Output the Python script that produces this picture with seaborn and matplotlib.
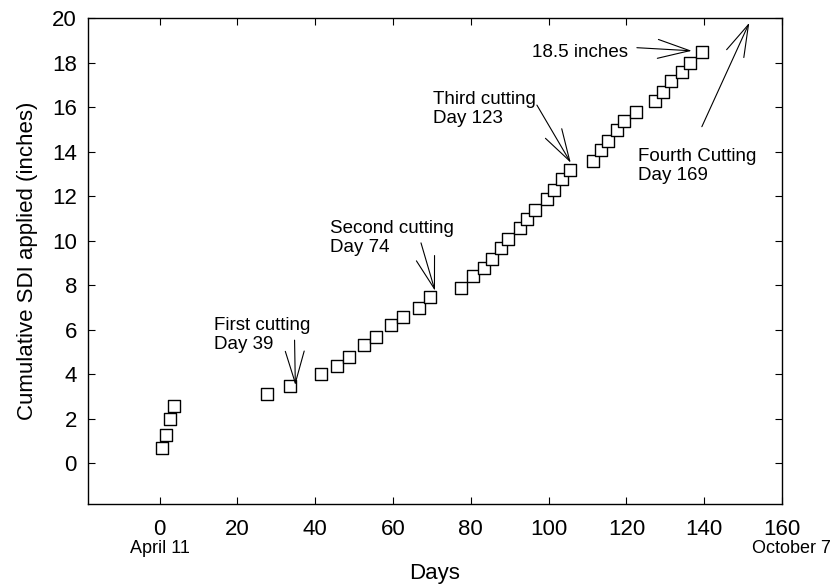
import matplotlib
matplotlib.use("Agg")
import matplotlib.pyplot as plt
import seaborn as sns
import pandas as pd

sns.set_style("ticks")
plt.rcParams["font.family"] = ["Liberation Sans", "DejaVu Sans"]
plt.rcParams["text.color"] = "black"
plt.rcParams["axes.labelcolor"] = "black"

# values
days = [0.7, 1.7, 2.7, 3.6,
        27.6, 33.6, 41.6, 45.6, 48.6, 52.5, 55.6, 59.6, 62.6, 66.6, 69.5,
        77.5, 80.5, 83.5, 85.5, 87.7, 89.5, 92.6, 94.5, 96.6, 99.5, 101.5, 103.4, 105.5,
        111.5, 113.4, 115.4, 117.5, 119.4, 122.4, 127.3, 129.3, 131.4, 134.3, 136.4, 139.4]
sdi = [0.7, 1.3, 2.0, 2.6,
       3.1, 3.5, 4.0, 4.4, 4.8, 5.3, 5.7, 6.2, 6.6, 7.0, 7.5,
       7.9, 8.4, 8.8, 9.2, 9.7, 10.1, 10.6, 11.0, 11.4, 11.9, 12.3, 12.8, 13.2,
       13.6, 14.1, 14.5, 15.0, 15.4, 15.8, 16.3, 16.7, 17.2, 17.6, 18.0, 18.5]

x_ticks = [0, 20, 40, 60, 80, 100, 120, 140, 160]
y_ticks = [0, 2, 4, 6, 8, 10, 12, 14, 16, 18, 20]

# annotation text, text anchor, arrow tail, arrow tip
notes = [
    ("First cutting\nDay 39", (13.9, 6.56), (34.7, 5.54), (34.9, 3.52)),
    ("Second cutting\nDay 74", (43.7, 10.93), (67.2, 9.91), (70.8, 7.76)),
    ("Third cutting\nDay 123", (70.4, 16.73), (97.0, 16.1), (105.7, 13.51)),
    ("Fourth Cutting\nDay 169", (123.0, 14.16), (139.4, 15.13), (151.6, 19.8)),
]
inches_label = "18.5 inches"
inches_pos = (120.5, 18.28)
inches_arrow = ((122.7, 18.68), (136.8, 18.54))

df = pd.DataFrame({"Days": days, "SDI": sdi})

fig = plt.figure(figsize=(8.35, 5.85), dpi=100)
ax = fig.add_axes([0.1054, 0.1393, 0.8311, 0.8294])

sns.scatterplot(data=df, x="Days", y="SDI", marker="s", s=75,
                color="white", edgecolor="black", linewidth=1.0, ax=ax, zorder=3)

ax.set_xlim(-18.4, 160)
ax.set_ylim(-1.8, 20)
ax.set_xticks(x_ticks)
ax.set_yticks(y_ticks)
ax.tick_params(direction="in", length=5, width=0.8, top=True, right=True,
               labelsize=16, colors="black")
ax.tick_params(axis="x", pad=11)
ax.tick_params(axis="y", pad=8)
for s in ax.spines.values():
    s.set_linewidth(1.0)
    s.set_color("black")

ax.set_xlabel("Days", fontsize=16, labelpad=17)
ax.set_ylabel("Cumulative SDI applied (inches)", fontsize=16, labelpad=10)

ax.text(0, -0.075, "April 11", transform=ax.get_xaxis_transform(),
        ha="center", va="top", fontsize=13)
ax.text(162.4, -0.075, "October 7", transform=ax.get_xaxis_transform(),
        ha="center", va="top", fontsize=13)

arrow = dict(arrowstyle="->,head_length=2.3,head_width=0.68", color="black",
             lw=0.8, shrinkA=0, shrinkB=0, mutation_scale=10)
for label, pos, tail, tip in notes:
    ax.text(pos[0], pos[1], label, ha="left", va="top", fontsize=13.5,
            linespacing=1.15)
    ax.annotate("", xy=tip, xytext=tail, arrowprops=arrow, annotation_clip=False)

ax.text(inches_pos[0], inches_pos[1], inches_label, ha="right", va="baseline",
        fontsize=13.5)
ax.annotate("", xy=inches_arrow[1], xytext=inches_arrow[0], arrowprops=arrow)

plt.savefig("out.png", dpi=100)
